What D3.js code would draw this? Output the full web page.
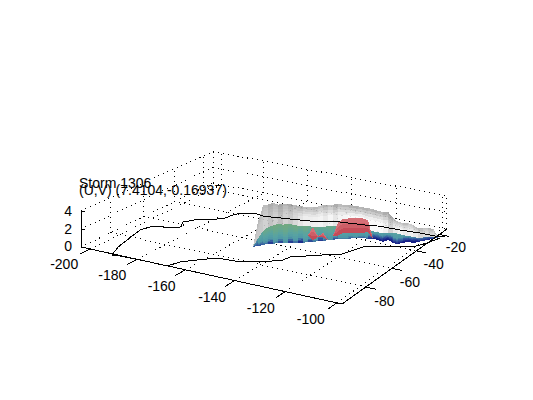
<!DOCTYPE html><html><head><meta charset="utf-8"><script src="https://cdn.jsdelivr.net/npm/d3@7"></script>
<style>html,body{margin:0;background:#fff}svg{display:block}text{font-family:"Liberation Sans",sans-serif;font-size:14px;fill:#000}</style></head><body><svg id="c" width="533" height="400"></svg>
<script>
const xTicks=[-200,-180,-160,-140,-120,-100],yTicks=[-80,-60,-40,-20],zTicks=[0,2,4];
const titleLines=["Storm 1306","(U,V) (7.4104,-0.16937)"];
const xDomain=[-204,-98],yDomain=[-97,-13],zDomain=[0,4];
// surface foot along the coast
const footLon=[-151.7,-150.6,-149.6,-148.6,-147.0,-146.0,-144.4,-142.8,-141.2,-139.7,-138.1,-137.0,-135.4,-134.3,-132.7,-131.7,-130.1,-129.0,-127.4,-125.7,-124.6,-123.0,-121.4,-119.3,-117.6,-115.5,-112.9,-112.3,-109.2,-107.1,-106.0,-104.8,-102.7,-101.5,-100.4,-99.2,-98.0,-96.8];
const footLat=[-66.6,-64.8,-63.0,-61.2,-60.3,-58.5,-57.6,-56.7,-55.8,-54.9,-53.9,-52.1,-51.2,-49.3,-48.4,-46.6,-45.6,-43.7,-42.8,-41.9,-40.0,-39.0,-38.1,-38.1,-37.1,-37.1,-38.1,-35.2,-37.1,-37.1,-35.2,-33.3,-33.3,-31.4,-29.5,-27.6,-25.6,-23.7];
const upperZ=[0,2.8,4.5,4.5,4.7,4.4,4.5,4.5,4.4,4.3,4.2,4.0,4.0,4.0,4.2,4.1,4.1,4.1,4.0,4.0,3.8,3.7,3.6,3.6,3.5,3.4,3.5,3.3,2.9,2.6,2.3,2.2,2.1,1.6,1.5,1.4,1.2,0.2];
const colourZ=[0,0.9,1.6,1.9,2.1,2.2,2.1,2.2,2.1,2.0,2.0,1.9,1.7,1.6,1.6,1.6,1.6,1.5,1.6,1.5,1.4,1.3,1.3,1.0,0.9,0.9,1.0,0.8,1.2,1.2,0.9,0.7,0.7,0.5,0.4,0.4,0.2,0.1];
const colourShift=[0,0,0.1,-0.2,0.2,-0.1,0.3,-0.2,0.1,-0.3,0.2,-0.1,0.2,-0.2,0.1,0.3,0.0,0.2,0.2,0.1,0.2,0.1,0.1,-0.2,-0.4,-0.4,-0.5,-0.5,-0.3,-0.4,-0.5,-0.5,-0.5,-0.3,-0.3,-0.3,-0.1,-0.1];
const redLow=[0,0,0,0,0,0,0,0,0,0,0,0.8,0.2,0.5,0.4,0,0.5,0.4,0.7,0.7,0.6,0.6,0.6,0.8,0,0,0,0,0,0,0,0,0,0,0,0,0,0];
const redHigh=[0,0,0,0,0,0,0,0,0,0,0,0.8,1.75,0.5,1.0,0,0.5,1.9,2.3,2.4,2.4,2.3,2.3,2.2,0,0,0,0,0,0,0,0,0,0,0,0,0,0];
const shadeTop=[176,176,182,164,176,158,174,162,178,170,182,186,176,190,172,186,164,182,176,172,166,174,170,176,172,178,164,156,182,192,182,200,184,176,191,174,186,186];
const shadeLow=[195,195,205,188,202,184,205,195,212,225,236,236,238,242,232,244,228,242,244,250,248,250,246,250,248,250,238,205,232,242,232,238,228,210,218,208,215,215];
// coastline
const upperCoastLon=[-190.0,-192.9,-194.4,-196.6,-195.4,-193.8,-188.5,-185.7,-188.1,-184.6,-177.2,-176.4,-174.7,-169.2,-166.0,-161.5,-155.4,-147.7,-142.2,-137.3,-127.4,-121.9,-113.2,-105.1,-98.7,-94.9];
const upperCoastLat=[-98.0,-90.6,-83.3,-72.4,-68.0,-65.8,-65.2,-62.2,-57.4,-51.5,-47.0,-41.3,-37.6,-35.6,-36.4,-35.5,-34.0,-32.1,-30.1,-27.2,-25.2,-23.5,-23.3,-22.3,-22.3,-21.4];
const lowerCoastLon=[-190.0,-187.0,-180.9,-174.7,-167.5,-165.8,-161.8,-156.8,-149.2,-141.7,-135.6,-135.0,-126.0,-120.2,-117.9,-117.0,-104.1,-100.9,-98.1,-96.1];
const lowerCoastLat=[-98.0,-97.4,-97.2,-96.9,-97.2,-91.8,-87.3,-82.2,-81.5,-78.0,-72.3,-68.5,-61.0,-56.5,-49.5,-46.4,-38.9,-37.1,-30.6,-23.3];

const us=d3.scaleLinear(xDomain,[0,1]),vs=d3.scaleLinear(yDomain,[0,1]),zs=d3.scaleLinear(zDomain,[0,36]);
function P(x,y,z){const u=us(x),v=vs(y),w=1-0.0595*u+0.1421*v;return[(240.65*u+162.27*v+81)/w,(38.91*u-38*v+247)/w-zs(z)/w];}
const svg=d3.select("#c");
const [x0,x1]=xDomain,[y0,y1]=yDomain,[z0,z1]=zDomain;
const gridG=svg.append("g"),surfG=svg.append("g"),axG=svg.append("g");
function L(g,a,b,dot){const p=P(...a),q=P(...b);g.append("line").attr("x1",p[0]).attr("y1",p[1]).attr("x2",q[0]).attr("y2",q[1]).attr("stroke","#000").attr("shape-rendering","crispEdges").attr("stroke-dasharray",dot?"1 4":null);}
xTicks.forEach(x=>{L(gridG,[x,y0,0],[x,y1,0],1);L(gridG,[x,y1,0],[x,y1,z1],1);});
yTicks.forEach(y=>{L(gridG,[x0,y,0],[x1,y,0],1);L(gridG,[x0,y,0],[x0,y,z1],1);});
zTicks.forEach(z=>{L(gridG,[x0,y0,z],[x0,y1,z],1);L(gridG,[x0,y1,z],[x1,y1,z],1);});
L(gridG,[x0,y1,0],[x0,y1,z1],1);L(gridG,[x1,y1,0],[x1,y1,z1],1);

// surface
const colourScale=d3.scaleLinear([-0.3,0.06,0.4,1.0,1.6,2.4],["#161f86","#34589f","#4f98a6","#58a3a2","#68a78c","#74a97c"]).clamp(true);
const n=footLon.length;
function quad(i,zaL,zbL,zaR,zbR,fill,op){
  const pts=[P(footLon[i],footLat[i],zaL),P(footLon[i+1],footLat[i+1],zaR),P(footLon[i+1],footLat[i+1],zbR),P(footLon[i],footLat[i],zbL)];
  surfG.append("polygon").attr("points",pts.map(p=>p.join(",")).join(" ")).attr("fill",fill).attr("fill-opacity",op).attr("shape-rendering","crispEdges");
}
const grayBands=d3.range(8),colourBands=d3.range(10);
for(let i=0;i<n-1;i++){
  const top=d3.rgb(shadeTop[i],shadeTop[i],shadeTop[i]),low=d3.rgb(shadeLow[i],shadeLow[i],shadeLow[i]);
  grayBands.forEach(k=>{const a=k/8,b=(k+1)/8;
    const zl=t=>upperZ[i]+(colourZ[i]-upperZ[i])*t,zr=t=>upperZ[i+1]+(colourZ[i+1]-upperZ[i+1])*t;
    quad(i,zl(a),zl(b),zr(a),zr(b),d3.interpolateRgb(top,low)(Math.min(1,a*2.2)),0.9);});
  colourBands.forEach(k=>{const a=k/10,b=(k+1)/10;
    const zMid=(colourZ[i]+colourZ[i+1])/2*(a+b)/2;
    quad(i,colourZ[i]*a,colourZ[i]*b,colourZ[i+1]*a,colourZ[i+1]*b,colourScale(zMid+colourShift[i]*(1-a*0.5)),1);});
}
// warm patches
const redScale=d3.scaleLinear([0,1],["#c44c58","#de8286"]);
for(let i=0;i<n-1;i++){
  if(redHigh[i]-redLow[i]<=0&&redHigh[i+1]-redLow[i+1]<=0)continue;
  d3.range(3).forEach(k=>{const a=k/3,b=(k+1)/3;
    const l=t=>redLow[i]+(redHigh[i]-redLow[i])*t,r=t=>redLow[i+1]+(redHigh[i+1]-redLow[i+1])*t;
    quad(i,l(a),l(b),r(a),r(b),redScale(a),1);});
}
// coast
const lineGen=d3.line().x(d=>d[0]).y(d=>d[1]);
[[upperCoastLon,upperCoastLat],[lowerCoastLon,lowerCoastLat]].forEach(([lo,la])=>{
  svg.append("path").attr("d",lineGen(lo.map((v,i)=>P(v,la[i],0)))).attr("fill","none").attr("stroke","#000").attr("stroke-width",1).attr("shape-rendering","crispEdges");});

// axes
L(axG,[x0,y0,0],[x1,y0,0]);L(axG,[x1,y0,0],[x1,y1,0]);L(axG,[x0,y0,0],[x0,y0,z1]);
xTicks.forEach(x=>{L(axG,[x,y0,0],[x,y0-6,0]);const p=P(x,y0-18,0),e=Math.max(0,x+140);axG.append("text").attr("x",p[0]+7-e*0.15).attr("y",p[1]+4-e*0.05).attr("text-anchor","middle").text(x);});
yTicks.forEach(y=>{L(axG,[x1,y,0],[x1+4,y,0]);const p=P(x1+10,y,0);axG.append("text").attr("x",p[0]-7).attr("y",p[1]+13).attr("text-anchor","middle").text(y);});
zTicks.forEach(z=>{const p=P(x0,y0,z);axG.append("line").attr("x1",p[0]).attr("x2",p[0]+4).attr("y1",p[1]).attr("y2",p[1]).attr("stroke","#000").attr("shape-rendering","crispEdges");axG.append("text").attr("x",p[0]-9).attr("y",p[1]+4+z/4).attr("text-anchor","end").text(z);});
svg.append("text").attr("x",79).attr("y",188).text(titleLines[0]);
svg.append("text").attr("x",79).attr("y",195).text(titleLines[1]);
</script></body></html>
